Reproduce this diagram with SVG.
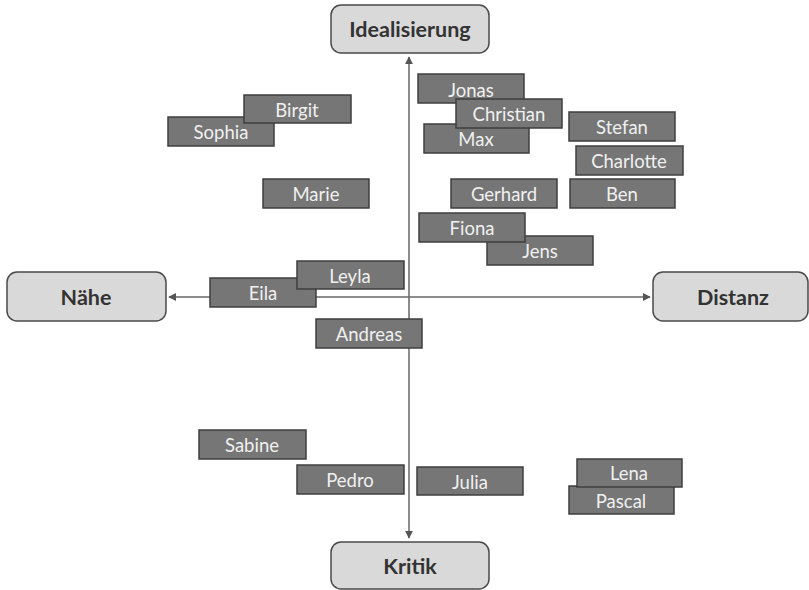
<svg xmlns="http://www.w3.org/2000/svg" width="809" height="590" viewBox="0 0 809 590">
<style>
.axisbox{fill:#d9d9d9;stroke:#4a4a4a;stroke-width:1.5}
.axistext{font-family:Lato,"Open Sans","Liberation Sans",sans-serif;font-weight:bold;font-size:21.5px;fill:#333333;text-anchor:middle}
.name{fill:#767676;stroke:#3f3f3f;stroke-width:1.5}
.nametext{font-family:Lato,"Open Sans","Liberation Sans",sans-serif;font-size:18.5px;fill:#f0f0f0;text-anchor:middle}
.axis{stroke:#666666;stroke-width:1.5;fill:none}
</style>
<defs>
<marker id="arr" viewBox="0 0 10 10" refX="9" refY="5" markerWidth="8" markerHeight="8" orient="auto-start-reverse" markerUnits="userSpaceOnUse">
<path d="M0,0 L10,5 L0,10 z" fill="#555555"/>
</marker>
</defs>
<rect width="809" height="590" fill="#ffffff"/>
<g id="connectors">
<line class="axis" x1="409" y1="57" x2="409" y2="538" marker-start="url(#arr)" marker-end="url(#arr)"/>
<line class="axis" x1="169" y1="297" x2="650" y2="297" marker-start="url(#arr)" marker-end="url(#arr)"/>
</g>
<g id="idealisierung"><rect class="axisbox" x="331" y="5" width="158" height="48" rx="10"/><text class="axistext" x="410" y="37">Idealisierung</text></g>
<g id="kritik"><rect class="axisbox" x="331" y="542" width="158" height="47" rx="10"/><text class="axistext" x="410" y="574">Kritik</text></g>
<g id="naehe"><rect class="axisbox" x="7" y="272" width="159" height="49" rx="10"/><text class="axistext" x="86" y="305">Nähe</text></g>
<g id="distanz"><rect class="axisbox" x="653" y="272" width="155" height="49" rx="10"/><text class="axistext" x="733" y="305">Distanz</text></g>

<g id="jonas"><rect class="name" x="418" y="74" width="106" height="29"/><text class="nametext" x="471" y="97">Jonas</text></g>
<g id="max"><rect class="name" x="424" y="124" width="105" height="29"/><text class="nametext" x="476" y="146">Max</text></g>
<g id="christian"><rect class="name" x="456" y="99" width="106" height="29"/><text class="nametext" x="509" y="121">Christian</text></g>
<g id="stefan"><rect class="name" x="569" y="112" width="106" height="29"/><text class="nametext" x="622" y="134">Stefan</text></g>
<g id="charlotte"><rect class="name" x="576" y="146" width="107" height="29"/><text class="nametext" x="629" y="168">Charlotte</text></g>
<g id="gerhard"><rect class="name" x="451" y="179" width="106" height="29"/><text class="nametext" x="504" y="201">Gerhard</text></g>
<g id="ben"><rect class="name" x="570" y="179" width="105" height="29"/><text class="nametext" x="622" y="201">Ben</text></g>
<g id="jens"><rect class="name" x="487" y="236" width="106" height="29"/><text class="nametext" x="540" y="258">Jens</text></g>
<g id="fiona"><rect class="name" x="419" y="213" width="106" height="29"/><text class="nametext" x="472" y="235">Fiona</text></g>
<g id="sophia"><rect class="name" x="168" y="117" width="106" height="29"/><text class="nametext" x="221" y="139">Sophia</text></g>
<g id="birgit"><rect class="name" x="244" y="95" width="107" height="28"/><text class="nametext" x="297" y="117">Birgit</text></g>
<g id="marie"><rect class="name" x="263" y="179" width="106" height="29"/><text class="nametext" x="316" y="201">Marie</text></g>
<g id="eila"><rect class="name" x="210" y="278" width="106" height="29"/><text class="nametext" x="263" y="300">Eila</text></g>
<g id="leyla"><rect class="name" x="297" y="261" width="107" height="28"/><text class="nametext" x="350" y="283">Leyla</text></g>
<g id="andreas"><rect class="name" x="316" y="319" width="106" height="29"/><text class="nametext" x="369" y="341">Andreas</text></g>
<g id="sabine"><rect class="name" x="199" y="430" width="107" height="29"/><text class="nametext" x="252" y="452">Sabine</text></g>
<g id="pedro"><rect class="name" x="297" y="465" width="107" height="29"/><text class="nametext" x="350" y="487">Pedro</text></g>
<g id="julia"><rect class="name" x="417" y="467" width="106" height="28"/><text class="nametext" x="470" y="489">Julia</text></g>
<g id="pascal"><rect class="name" x="569" y="486" width="105" height="28"/><text class="nametext" x="621" y="508">Pascal</text></g>
<g id="lena"><rect class="name" x="577" y="459" width="105" height="28"/><text class="nametext" x="629" y="480">Lena</text></g>
</svg>
